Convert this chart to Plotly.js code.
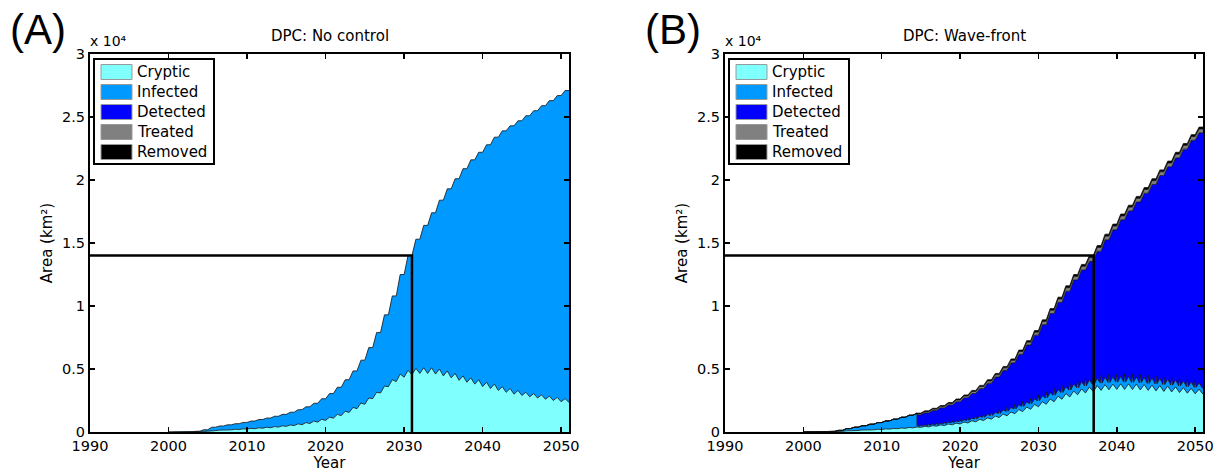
<!DOCTYPE html>
<html><head><meta charset="utf-8">
<script src="https://cdn.plot.ly/plotly-3.0.1.min.js"></script>
<style>html,body{margin:0;padding:0;background:#fff}#chart{width:1224px;height:475px}</style>
</head><body><div id="chart"></div>
<script>
// ---------------- DATA ----------------
const years = [2000,2001,2002,2003,2004,2005,2006,2007,2008,2009,
               2010,2011,2012,2013,2014,2015,2016,2017,2018,2019,
               2020,2021,2022,2023,2024,2025,2026,2027,2028,2029,
               2030,2031,2032,2033,2034,2035,2036,2037,2038,2039,
               2040,2041,2042,2043,2044,2045,2046,2047,2048,2049,
               2050,2051];
const seriesNames = ['Cryptic','Infected','Detected','Treated','Removed'];
const panelTitles = ['DPC: No control','DPC: Wave-front'];
const panelLabels = ['(A)','(B)'];
const xTicks = [1990,2000,2010,2020,2030,2040,2050];
const yTicks = [0,5000,10000,15000,20000,25000,30000];
const yTickLabels = ['0','0.5','1','1.5','2','2.5','3'];
const yExponentLabel = 'x 10\u2074';
const xTitle = 'Year';
const yTitle = 'Area (km\u00B2)';
const xRange = [1990,2051];
const yRange = [0,30000];
const threshold = 14000;
const crossYearA = 2031.0;
const crossYearB = 2037.05;
const detectStartB = 2014.5;

// Panel A: total infested area (value reached each year) and cryptic troughs / peaks
const totalA = [0,0,0,10,60,180,380,480,570,660,
                760,870,990,1110,1250,1400,1570,1770,2000,2280,
                2640,3050,3550,4150,4850,5700,6700,7900,9300,10800,
                12500,14000,15300,16400,17400,18400,19300,20100,20900,21600,
                22200,22800,23400,23900,24300,24700,25100,25500,25900,26300,
                26700,27100];
const crypticTroughA = [0,0,0,0,20,60,110,140,170,200,
                230,260,300,340,390,450,510,580,670,780,
                920,1100,1300,1550,1850,2200,2650,3100,3600,4000,
                4350,4550,4650,4650,4600,4450,4300,4100,3950,3800,
                3600,3450,3300,3150,3000,2900,2800,2700,2600,2500,
                2400,2350];
const crypticPeakA = [0,0,0,10,50,110,150,180,220,250,
                290,330,380,430,490,560,650,750,870,1010,
                1180,1400,1650,1950,2300,2700,3150,3650,4150,4600,
                4900,5050,5100,5100,5000,4850,4650,4450,4300,4150,
                3950,3800,3600,3450,3300,3150,3050,2950,2850,2750,
                2650,2350];

// Panel B
const totalB = [0,0,0,10,50,130,270,380,500,620,
                750,880,1020,1170,1330,1500,1680,1880,2100,2340,
                2620,2940,3300,3700,4150,4650,5200,5800,6500,7250,
                8050,8900,9800,10700,11600,12500,13300,14000,14800,15700,
                16500,17300,18000,18700,19400,20100,20800,21500,22200,22900,
                23600,24200];
const crypticTroughB = [0,0,0,0,10,50,90,120,150,170,
                200,230,260,290,330,370,410,460,510,570,
                640,720,810,910,1020,1150,1290,1450,1620,1800,
                2000,2200,2400,2600,2780,2950,3100,3200,3300,3350,
                3380,3380,3370,3340,3300,3260,3220,3180,3130,3080,
                3030,3000];
const crypticPeakB = [0,0,0,10,40,90,130,160,190,220,
                250,280,320,360,400,450,500,560,630,700,
                790,890,1000,1120,1260,1420,1590,1780,1980,2190,
                2400,2620,2840,3050,3250,3420,3560,3680,3760,3800,
                3820,3820,3800,3760,3720,3680,3640,3580,3520,3460,
                3400,3000];
const infectedBandB = [0,0,0,0,0,0,0,0,0,0,
                0,0,0,0,0,100,110,120,140,160,
                180,200,230,260,290,320,350,380,410,440,
                470,500,520,540,550,560,570,580,580,580,
                580,580,570,570,560,560,550,540,530,520,
                510,500];
const infectedSpikeB = [0,0,0,0,0,0,0,0,0,0,
                0,0,0,0,0,80,100,120,140,160,
                180,200,230,260,290,320,350,380,410,440,
                470,500,530,560,590,610,630,650,660,660,
                660,660,650,640,630,620,610,600,590,580,
                570,0];
const treatedB = [0,0,0,0,0,0,0,0,0,0,
                0,0,0,0,0,90,100,110,120,130,
                140,150,160,170,180,190,200,210,220,230,
                240,250,260,270,280,290,300,300,300,300,
                300,300,300,300,300,300,300,300,300,300,
                300,300];
const removedB = [0,0,0,0,0,0,0,0,0,0,
                0,0,0,0,0,50,55,60,65,70,
                75,80,85,90,95,100,105,110,115,120,
                125,130,135,140,145,150,150,150,150,150,
                150,150,150,150,150,150,150,150,150,150,
                150,150];

// ---------------- STYLE ----------------
const FONT = 'DejaVu Sans, Arial, sans-serif';
const colors = {Cryptic:'#80FFFF', Infected:'#0099FF', Detected:'#0000FF', Treated:'#808080', Removed:'#000000'};
const W = 1224, H = 475;
const px = v => v / W, py = v => 1 - v / H;
const plotPx = [{l:90, r:569}, {l:725, r:1203}];
const plotTop = 54, plotBottom = 432;

// ---------------- PATH BUILDERS ----------------
const n = years.length - 1;
function stepPath(T) {           // yearly rise during first half-year, then flat
  const x = [], y = [], k = [];
  for (let i = 0; i < n; i++) {
    x.push(years[i]); y.push(T[i]); k.push(i);
    x.push(years[i] + 0.5); y.push(T[i + 1]); k.push(i + 1);
  }
  x.push(years[n]); y.push(T[n]); k.push(n);
  return {x, y, k};
}
function zigzagPath(tr, pk) {    // cryptic: rise to mid-year peak, fall to next trough
  const x = [], y = [];
  for (let i = 0; i < n; i++) {
    x.push(years[i]); y.push(tr[i]);
    x.push(years[i] + 0.5); y.push(pk[i]);
  }
  x.push(years[n]); y.push(tr[n]);
  return {x, y};
}
function bandTop(T, subtract) {  // upper stacked boundaries of panel B
  const s = stepPath(T), x = [], y = [];
  for (let j = 0; j < s.x.length; j++) {
    const kk = s.k[j], sub = subtract.reduce((a, arr) => a + arr[kk], 0);
    if (s.x[j] < detectStartB) { x.push(s.x[j]); y.push(T[kk]); }
    else if (s.x[j] === detectStartB) { x.push(s.x[j], s.x[j]); y.push(T[kk], T[kk] - sub); }
    else { x.push(s.x[j]); y.push(T[kk] - sub); }
  }
  return {x, y};
}
function infectedTopB() {
  const s = stepPath(totalB), x = [], y = [];
  for (let j = 0; j < s.x.length && s.x[j] <= detectStartB; j++) { x.push(s.x[j]); y.push(totalB[s.k[j]]); }
  const i0 = years.indexOf(Math.floor(detectStartB));
  x.push(detectStartB); y.push(crypticPeakB[i0] + infectedBandB[i0 + 1]);
  for (let i = i0 + 1; i <= n; i++) {
    const base = crypticTroughB[i] + infectedBandB[i];
    x.push(years[i] - 0.12); y.push(base);
    x.push(years[i]); y.push(base + infectedSpikeB[i]);
    if (i < n) {
      x.push(years[i] + 0.12); y.push(base);
      x.push(years[i] + 0.5); y.push(crypticPeakB[i] + infectedBandB[i]);
    }
  }
  return {x, y};
}

function area(path, name, fill, xa, ya) {
  return {type:'scatter', mode:'lines', x:path.x, y:path.y, name:name,
    fill:fill, fillcolor:colors[name],
    line:{color:'#111', width:0.8}, xaxis:xa, yaxis:ya,
    showlegend:false, hoverinfo:'skip'};
}
function thresholdLine(cross, xa, ya) {
  return {type:'scatter', mode:'lines', x:[xRange[0], cross, cross], y:[threshold, threshold, 0],
    line:{color:'#000', width:2.5}, xaxis:xa, yaxis:ya, showlegend:false, hoverinfo:'skip'};
}

const traces = [
  area(zigzagPath(crypticTroughA, crypticPeakA), 'Cryptic', 'tozeroy', 'x', 'y'),
  area(stepPath(totalA), 'Infected', 'tonexty', 'x', 'y'),
  thresholdLine(crossYearA, 'x', 'y'),
  area(zigzagPath(crypticTroughB, crypticPeakB), 'Cryptic', 'tozeroy', 'x2', 'y2'),
  area(infectedTopB(), 'Infected', 'tonexty', 'x2', 'y2'),
  area(bandTop(totalB, [treatedB, removedB]), 'Detected', 'tonexty', 'x2', 'y2'),
  area(bandTop(totalB, [removedB]), 'Treated', 'tonexty', 'x2', 'y2'),
  area(bandTop(totalB, []), 'Removed', 'tonexty', 'x2', 'y2'),
  thresholdLine(crossYearB, 'x2', 'y2')
];

// ---------------- LAYOUT ----------------
const axFont = {family:FONT, size:14.5, color:'#000'};
const axBase = {showline:true, linecolor:'#000', linewidth:2, mirror:'ticks',
  ticks:'inside', ticklen:5, tickwidth:1.5, tickcolor:'#000',
  showgrid:false, zeroline:false, tickfont:axFont, fixedrange:true, automargin:false};
const yDomain = [py(plotBottom), py(plotTop)];
function xAxis(p, anchor) {
  return Object.assign({}, axBase, {domain:[px(plotPx[p].l), px(plotPx[p].r)], range:xRange,
    tickmode:'array', tickvals:xTicks, ticktext:xTicks.map(String), anchor:anchor,
    title:{text:xTitle, font:{family:FONT, size:15, color:'#000'}, standoff:3}});
}
function yAxis(p, anchor) {
  return Object.assign({}, axBase, {domain:yDomain, range:yRange, anchor:anchor,
    tickmode:'array', tickvals:yTicks, ticktext:yTickLabels,
    title:{text:yTitle, font:{family:FONT, size:15, color:'#000'}, standoff:6}});
}

const annotations = [], shapes = [];
plotPx.forEach((p, i) => {
  const cx = (p.l + p.r) / 2;
  annotations.push({xref:'paper', yref:'paper', x:px(cx), y:py(36), xanchor:'center', yanchor:'middle',
    text:panelTitles[i], showarrow:false, font:{family:FONT, size:15, color:'#000'}});
  annotations.push({xref:'paper', yref:'paper', x:px(p.l - 2), y:py(51), xanchor:'left', yanchor:'bottom',
    text:yExponentLabel, showarrow:false, font:{family:FONT, size:14, color:'#000'}});
  annotations.push({xref:'paper', yref:'paper', x:px(p.l - 82), y:py(4), xanchor:'left', yanchor:'top',
    text:panelLabels[i], showarrow:false, font:{family:'Liberation Sans, Arial, sans-serif', size:42, color:'#000'}});
  // legend box
  const bl = p.l + 4;
  shapes.push({type:'rect', xref:'paper', yref:'paper', x0:px(bl), x1:px(bl + 120), y0:py(164), y1:py(59),
    line:{color:'#000', width:2}, fillcolor:'#fff', layer:'above'});
  seriesNames.forEach((nm, j) => {
    const top = 64.5 + 20 * j;
    shapes.push({type:'rect', xref:'paper', yref:'paper', x0:px(bl + 7), x1:px(bl + 38), y0:py(top + 15), y1:py(top),
      line:{color:'#9a9a9a', width:1}, fillcolor:colors[nm], layer:'above'});
    annotations.push({xref:'paper', yref:'paper', x:px(bl + 41), y:py(top + 7.5), xanchor:'left', yanchor:'middle',
      text:nm, showarrow:false, font:{family:FONT, size:15, color:'#000'}});
  });
});

const layout = {
  width:W, height:H, margin:{l:0, r:0, t:0, b:0},
  paper_bgcolor:'#fff', plot_bgcolor:'#fff', showlegend:false,
  xaxis:xAxis(0, 'y'), yaxis:yAxis(0, 'x'),
  xaxis2:xAxis(1, 'y2'), yaxis2:yAxis(1, 'x2'),
  annotations:annotations, shapes:shapes
};

Plotly.newPlot('chart', traces, layout, {displayModeBar:false, staticPlot:true});
</script>
</body></html>
